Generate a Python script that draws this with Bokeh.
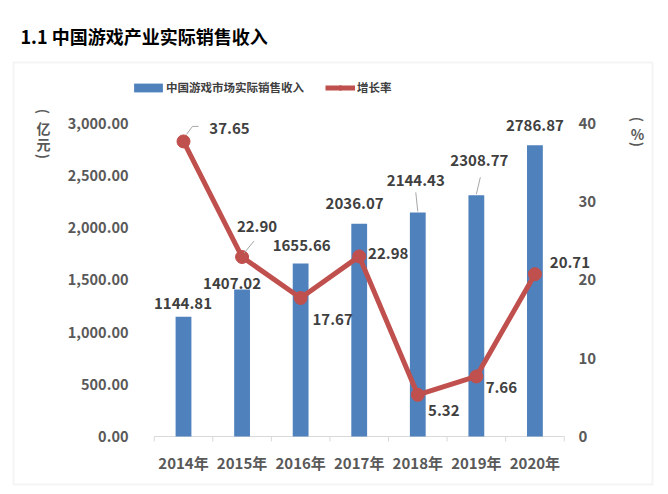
import math
from bokeh.plotting import figure
from bokeh.models import (Range1d, LinearAxis, FixedTicker, NumeralTickFormatter, Label,
                          LabelSet, Legend, LegendItem, ColumnDataSource, BoxAnnotation)
from bokeh.core.properties import value
from bokeh.embed import file_html
from bokeh.resources import INLINE

# ---------------- data ----------------
years = ["2014年", "2015年", "2016年", "2017年", "2018年", "2019年", "2020年"]
revenue = [1144.81, 1407.02, 1655.66, 2036.07, 2144.43, 2308.77, 2786.87]
growth = [37.65, 22.90, 17.67, 22.98, 5.32, 7.66, 20.71]
left_ticks = [0, 500, 1000, 1500, 2000, 2500, 3000]
right_ticks = [0, 10, 20, 30, 40]
title_text = "1.1 中国游戏产业实际销售收入"
bar_name = "中国游戏市场实际销售收入"
line_name = "增长率"
left_unit = ["亿", "元"]
right_unit = ["%"]

# ---------------- styling / layout (canvas pixels) ----------------
FONT = "Noto Sans CJK SC"
W, H = 668, 494
X0, STEP = 183.0, 58.57         # centre of first category, category pitch
Y0, Y3000 = 436.0, 122.5        # pixel rows of value 0 and 3000 (=40 %)
BLUE = "#4f81bd"
RED = "#c0504d"
GRAY = "#595959"
DARK = "#404040"
AXC = "#d9d9d9"

# label offsets in pixels (x right, y up)
bar_dx = [-0.5, -10, 1, -4.6, -2, 3, 0]
bar_dy = [13.4, 6, 18, 20, 32, 35, 20]
line_dx = [46, 15, 32, 29, 26, 25, 35]
line_dy = [13, 31, -21, 3, -16, -11, 12]

xs = list(range(len(years)))
px_y = (Y0 - Y3000) / 3000.0
px_r = (Y0 - Y3000) / 40.0
x_rng = Range1d(-X0 / STEP, (W - X0) / STEP)
y_rng = Range1d(-(H - Y0) / px_y, Y0 / px_y)
r_rng = Range1d(-(H - Y0) / px_r, Y0 / px_r)

p = figure(width=W, height=H, output_backend="svg", toolbar_location=None,
           x_range=x_rng, y_range=y_rng, min_border=0)
p.extra_y_ranges = {"rate": r_rng}
p.outline_line_color = None
p.xgrid.visible = False
p.ygrid.visible = False
p.background_fill_color = "white"
p.border_fill_color = "white"

FS = "15px"

# x axis (labels only; base line drawn below at value 0)
xa = p.xaxis[0]
xa.ticker = FixedTicker(ticks=xs)
xa.major_label_overrides = {i: y for i, y in zip(xs, years)}
xa.axis_line_color = None
xa.major_tick_line_color = None
xa.minor_tick_line_color = None
xa.major_label_standoff = -49
xa.major_label_text_font = FONT
xa.major_label_text_font_size = FS
xa.major_label_text_font_style = "bold"
xa.major_label_text_color = GRAY

# left axis
ya = p.yaxis[0]
ya.ticker = FixedTicker(ticks=left_ticks)
ya.formatter = NumeralTickFormatter(format="0,0.00")
ya.axis_line_color = None
ya.major_tick_line_color = None
ya.minor_tick_line_color = None
ya.major_label_standoff = -134
ya.major_label_text_font = FONT
ya.major_label_text_font_size = "14.5px"
ya.major_label_text_font_style = "bold"
ya.major_label_text_color = GRAY

# right axis
ra = LinearAxis(y_range_name="rate", ticker=FixedTicker(ticks=right_ticks))
ra.axis_line_color = None
ra.major_tick_line_color = None
ra.minor_tick_line_color = None
ra.major_label_standoff = -(W - 572)
ra.major_label_text_font = FONT
ra.major_label_text_font_size = FS
ra.major_label_text_font_style = "bold"
ra.major_label_text_color = GRAY
p.add_layout(ra, "right")

# chart box
box = BoxAnnotation(left=13, right=652, top=H - 62, bottom=H - 484,
                    left_units="screen", right_units="screen",
                    top_units="screen", bottom_units="screen",
                    fill_alpha=0, line_color="#dadada", line_width=2, level="underlay")
p.add_layout(box)

# base line with boundary ticks
n = len(years)
p.segment(x0=[-0.5], y0=[0], x1=[n - 0.5], y1=[0], line_color=AXC, line_width=1)
bnd = [i - 0.5 for i in range(n + 1)]
p.segment(x0=bnd, y0=[0] * len(bnd), x1=bnd, y1=[-5 / px_y] * len(bnd), line_color=AXC, line_width=1)

# bars and line
bars = p.vbar(x=xs, top=revenue, width=0.27, fill_color=BLUE, line_color=None)
line = p.line(x=xs, y=growth, y_range_name="rate", line_color=RED, line_width=5)
dots = p.scatter(x=xs, y=growth, y_range_name="rate", size=13, fill_color=RED, line_color=RED)

# leader lines (pixel offsets converted to data units)
def seg(x, y, d0, d1, scale):
    return (x + d0[0] / STEP, y + d0[1] / scale, x + d1[0] / STEP, y + d1[1] / scale)

lead_rev = [seg(4, revenue[4], (0, 1), (-2, 20), px_y), seg(5, revenue[5], (0, 1), (4, 18), px_y)]
p.segment(x0=[s[0] for s in lead_rev], y0=[s[1] for s in lead_rev],
          x1=[s[2] for s in lead_rev], y1=[s[3] for s in lead_rev],
          line_color="#a6a6a6", line_width=1)
lead_rate = [seg(0, growth[0], (3, 7), (9, 15), px_r), seg(0, growth[0], (9, 15), (15, 15), px_r),
             seg(1, growth[1], (2, 4), (12, 16), px_r)]
p.segment(x0=[s[0] for s in lead_rate], y0=[s[1] for s in lead_rate],
          x1=[s[2] for s in lead_rate], y1=[s[3] for s in lead_rate],
          y_range_name="rate", line_color="#a6a6a6", line_width=1)

# data labels
src_b = ColumnDataSource(dict(x=xs, y=revenue, t=[f"{v:.2f}" for v in revenue], dx=bar_dx, dy=bar_dy))
p.add_layout(LabelSet(x="x", y="y", text="t", x_offset="dx", y_offset="dy", source=src_b,
                      text_align="center", text_baseline="middle", text_font=value(FONT),
                      text_font_size=FS, text_font_style="bold", text_color=DARK))
src_r = ColumnDataSource(dict(x=xs, y=growth, t=[f"{v:.2f}" for v in growth], dx=line_dx, dy=line_dy))
p.add_layout(LabelSet(x="x", y="y", text="t", x_offset="dx", y_offset="dy", source=src_r,
                      y_range_name="rate",
                      text_align="center", text_baseline="middle", text_font=value(FONT),
                      text_font_size=FS, text_font_style="bold", text_color=DARK))

# legends (two, so each swatch gets its own width)
leg_common = dict(orientation="horizontal", padding=0, margin=0, border_line_color=None,
                  background_fill_alpha=0, label_height=14,
                  label_text_font=FONT, label_text_font_size="11.5px",
                  label_text_font_style="bold", label_text_color=DARK)
leg1 = Legend(items=[LegendItem(label=bar_name, renderers=[bars])],
              location=(130, H - 95), glyph_width=36, glyph_height=11, label_standoff=0,
              **leg_common)
leg2 = Legend(items=[LegendItem(label=line_name, renderers=[line, dots])],
              location=(325, H - 95), glyph_width=30, glyph_height=11, label_standoff=2,
              **leg_common)
p.add_layout(leg1)
p.add_layout(leg2)

# screen-space texts
def slabel(text, X, Y, size, color, align="center", style="bold", angle=0.0):
    p.add_layout(Label(x=X, y=H - Y, x_units="screen", y_units="screen", text=text,
                       text_align=align, text_baseline="middle", text_font=FONT, angle=angle,
                       text_font_size=size, text_font_style=style, text_color=color))

slabel(title_text, 20, 35, "18px", "#000000", align="left")

# vertical unit captions with rotated parentheses
def vcaption(chars, X, Ytop, step):
    slabel("(", X, Ytop, "14px", GRAY, angle=-math.pi / 2)
    Y = Ytop + step
    for ch in chars:
        slabel(ch, X, Y, "14px", GRAY)
        Y += step
    slabel(")", X, Y - 3, "14px", GRAY, angle=-math.pi / 2)

vcaption(left_unit, 43, 111, 16)
vcaption(right_unit, 637, 119, 14)

open("out.html", "w").write(file_html(p, INLINE))
